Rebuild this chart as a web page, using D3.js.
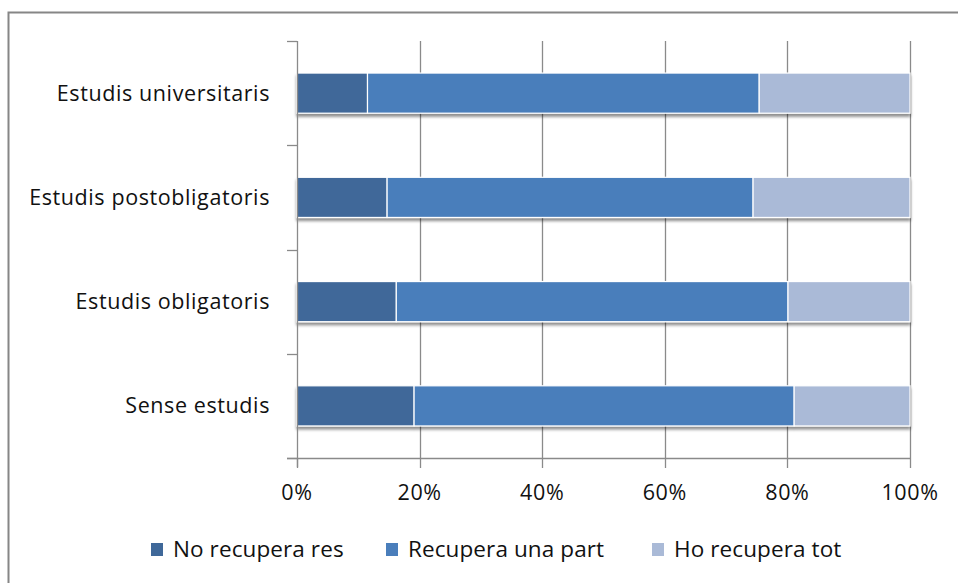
<!DOCTYPE html>
<html>
<head>
<meta charset="utf-8">
<script src="https://cdn.jsdelivr.net/npm/d3@7"></script>
<style>
  html, body { margin: 0; padding: 0; background: #fff; }
  svg { display: block; }
  text { font-family: "Open Sans", Lato, sans-serif; fill: #111; }
</style>
</head>
<body>
<svg id="chart" width="958" height="583"></svg>
<script>
const categories = ["Estudis universitaris", "Estudis postobligatoris", "Estudis obligatoris", "Sense estudis"];
const seriesNames = ["No recupera res", "Recupera una part", "Ho recupera tot"];
const noRecupera = [11.5, 14.7, 16.2, 19.1];
const recuperaPart = [63.9, 59.7, 63.9, 62.0];
const recuperaTot = [24.6, 25.6, 19.9, 18.9];
const xTicks = [0, 20, 40, 60, 80, 100];
const colors = ["#3f6899", "#4a7ebb", "#aabad7"];

const svg = d3.select("#chart");
const pLeft = 297, pRight = 910, pTop = 41, pBottom = 458;

// outer border
svg.append("rect").attr("x", 8.5).attr("y", 12.5).attr("width", 960).attr("height", 600)
  .attr("fill", "#fff").attr("stroke", "#868686").attr("stroke-width", 2);

const defs = svg.append("defs");
const f = defs.append("filter").attr("id", "shadow").attr("x", "-5%").attr("y", "-20%").attr("width", "110%").attr("height", "160%");
f.append("feGaussianBlur").attr("in", "SourceAlpha").attr("stdDeviation", 1.8).attr("result", "blur");
f.append("feOffset").attr("in", "blur").attr("dx", 0).attr("dy", 3).attr("result", "off");
f.append("feComponentTransfer").attr("in", "off").attr("result", "sh")
  .append("feFuncA").attr("type", "linear").attr("slope", 0.45);
const m = f.append("feMerge");
m.append("feMergeNode").attr("in", "sh");
m.append("feMergeNode").attr("in", "SourceGraphic");

const x = d3.scaleLinear().domain([0, 100]).range([pLeft, pRight]);
const y = d3.scaleBand().domain(categories).range([pTop, pBottom]).paddingInner(0.615).paddingOuter(0.3075);

// gridlines
svg.append("g").selectAll("line").data(xTicks.slice(1)).join("line")
  .attr("x1", d => Math.round(x(d)) + 0.5).attr("x2", d => Math.round(x(d)) + 0.5)
  .attr("y1", pTop).attr("y2", pBottom)
  .attr("stroke", "#8a8a8a").attr("stroke-width", 1.3);

// stacked data
const rows = categories.map((c, i) => ({cat: c, a: noRecupera[i], b: recuperaPart[i], c2: recuperaTot[i]}));
const stack = d3.stack().keys(["a", "b", "c2"])(rows);

const gBars = svg.append("g").attr("filter", "url(#shadow)");
stack.forEach((layer, li) => {
  gBars.append("g").selectAll("rect").data(layer).join("rect")
    .attr("x", d => x(d[0]))
    .attr("y", d => y(d.data.cat))
    .attr("width", d => x(d[1]) - x(d[0]))
    .attr("height", y.bandwidth())
    .attr("fill", colors[li])
    .attr("stroke", "#fff").attr("stroke-width", 1.2);
});

// y axis
const yAxisG = svg.append("g");
yAxisG.append("line").attr("x1", pLeft + 0.5).attr("x2", pLeft + 0.5).attr("y1", pTop).attr("y2", pBottom + 9)
  .attr("stroke", "#8a8a8a").attr("stroke-width", 1.3);
const yTickPos = d3.range(categories.length + 1).map(i => pTop + i * (pBottom - pTop) / categories.length);
yAxisG.selectAll("line.t").data(yTickPos).join("line").attr("class", "t")
  .attr("x1", pLeft - 10).attr("x2", pLeft).attr("y1", d => Math.round(d) + 0.5).attr("y2", d => Math.round(d) + 0.5)
  .attr("stroke", "#8a8a8a").attr("stroke-width", 1.3);
yAxisG.selectAll("text").data(categories).join("text")
  .attr("x", 270).attr("y", d => y(d) + y.bandwidth() / 2)
  .attr("dy", "0.35em").attr("text-anchor", "end")
  .attr("font-size", 21.5).attr("letter-spacing", 0.6).text(d => d);

// x axis
const xAxisG = svg.append("g");
xAxisG.append("line").attr("x1", pLeft - 10).attr("x2", pRight).attr("y1", pBottom + 0.5).attr("y2", pBottom + 0.5)
  .attr("stroke", "#8a8a8a").attr("stroke-width", 1.3);
xAxisG.selectAll("line.t").data(xTicks).join("line").attr("class", "t")
  .attr("x1", d => Math.round(x(d)) + 0.5).attr("x2", d => Math.round(x(d)) + 0.5)
  .attr("y1", pBottom).attr("y2", pBottom + 10)
  .attr("stroke", "#8a8a8a").attr("stroke-width", 1.3);
xAxisG.selectAll("text").data(xTicks).join("text")
  .attr("x", d => x(d)).attr("y", 500).attr("text-anchor", "middle")
  .attr("font-size", 21.5).attr("letter-spacing", 0.6).text(d => d + "%");

// legend
const legendX = [151, 386, 652];
const lg = svg.append("g");
seriesNames.forEach((s, i) => {
  lg.append("rect").attr("x", legendX[i]).attr("y", 543).attr("width", 12).attr("height", 13).attr("fill", colors[i]);
  lg.append("text").attr("x", legendX[i] + 22).attr("y", 557).attr("font-size", 22.5).attr("letter-spacing", 0.1).text(s);
});
</script>
</body>
</html>
